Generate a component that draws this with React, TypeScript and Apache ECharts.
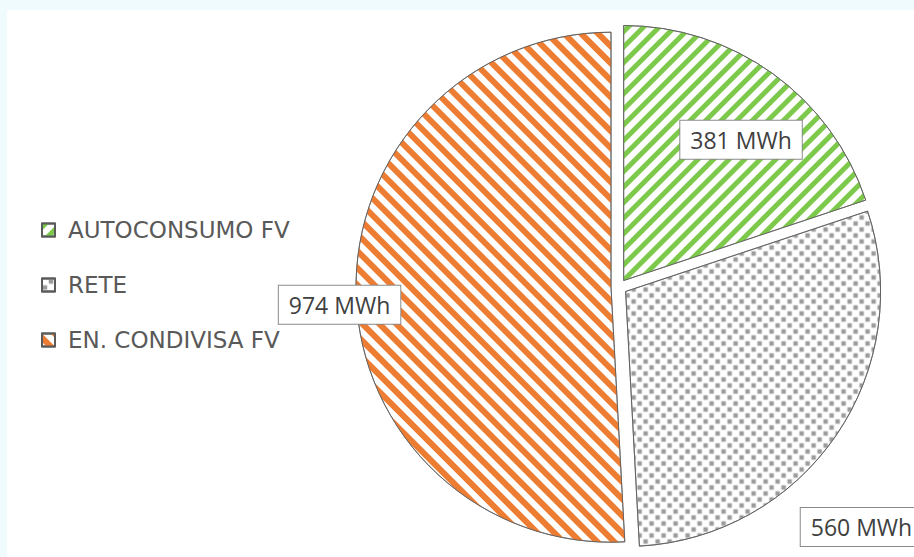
import React, { useEffect, useRef } from 'react';
import * as echarts from 'echarts';

const categories = ['AUTOCONSUMO FV', 'RETE', 'EN. CONDIVISA FV'];
const values = [381, 560, 974];
const unit = 'MWh';

const decals: any[] = [
  { symbol: 'rect', color: '#7dc94b', backgroundColor: '#ffffff', dashArrayX: [1, 0], dashArrayY: [5, 6], rotation: -Math.PI / 4 },
  { symbol: 'rect', color: '#9c9c9c', backgroundColor: '#ffffff', dashArrayX: [[6, 6], [0, 6, 6, 0]], dashArrayY: [6, 0], symbolSize: 0.75 },
  { symbol: 'rect', color: '#ec7d33', backgroundColor: '#ffffff', dashArrayX: [1, 0], dashArrayY: [5.5, 5.5], rotation: Math.PI / 4 },
];
const labelShift = [[41, -35], [128, 162], [-141, 14]];

export default function App() {
  const ref = useRef<HTMLDivElement>(null);
  useEffect(() => {
    if (!ref.current) return;
    const chart = echarts.init(ref.current, undefined, { renderer: 'svg' });
    chart.setOption({
      animation: false,
      aria: { enabled: true, decal: { show: true } },
      graphic: [
        { type: 'rect', silent: true, z: -10, shape: { x: 7, y: 10, width: 907, height: 547 }, style: { fill: '#ffffff' } },
      ],
      legend: {
        orient: 'vertical',
        left: 41,
        top: 218,
        padding: 0,
        icon: 'rect',
        itemWidth: 13,
        itemHeight: 13,
        itemGap: 31,
        selectedMode: false,
        data: categories,
        textStyle: { fontFamily: 'DejaVu Sans', fontSize: 23, color: '#595959', lineHeight: 24, padding: [0, 0, 0, 8] },
      },
      series: [
        {
          type: 'pie',
          center: [619, 287],
          radius: 255,
          startAngle: 90,
          clockwise: true,
          selectedMode: 'multiple',
          selectedOffset: 8,
          avoidLabelOverlap: false,
          emphasis: { disabled: true },
          labelLine: { show: false },
          itemStyle: { color: '#ffffff', borderColor: '#5a5a5a', borderWidth: 0.8 },
          label: {
            show: true,
            position: 'inside',
            rotate: 0,
            formatter: (p: any) => `${p.value} ${unit}`,
            fontFamily: 'Open Sans',
            fontSize: 23,
            lineHeight: 24,
            color: '#404040',
            backgroundColor: '#ffffff',
            borderColor: '#8a8a8a',
            borderWidth: 1,
            padding: [7, 10],
          },
          labelLayout: (params: any) => ({ dx: labelShift[params.dataIndex][0], dy: labelShift[params.dataIndex][1] }),
          data: categories.map((name, i) => ({
            name,
            value: values[i],
            selected: true,
            itemStyle: { decal: decals[i] },
          })),
        },
      ],
    });
    return () => chart.dispose();
  }, []);
  return (
    <div
      ref={ref}
      style={{ position: 'fixed', left: 0, top: 0, width: 914, height: 557, background: '#f0fbfd' }}
    />
  );
}
